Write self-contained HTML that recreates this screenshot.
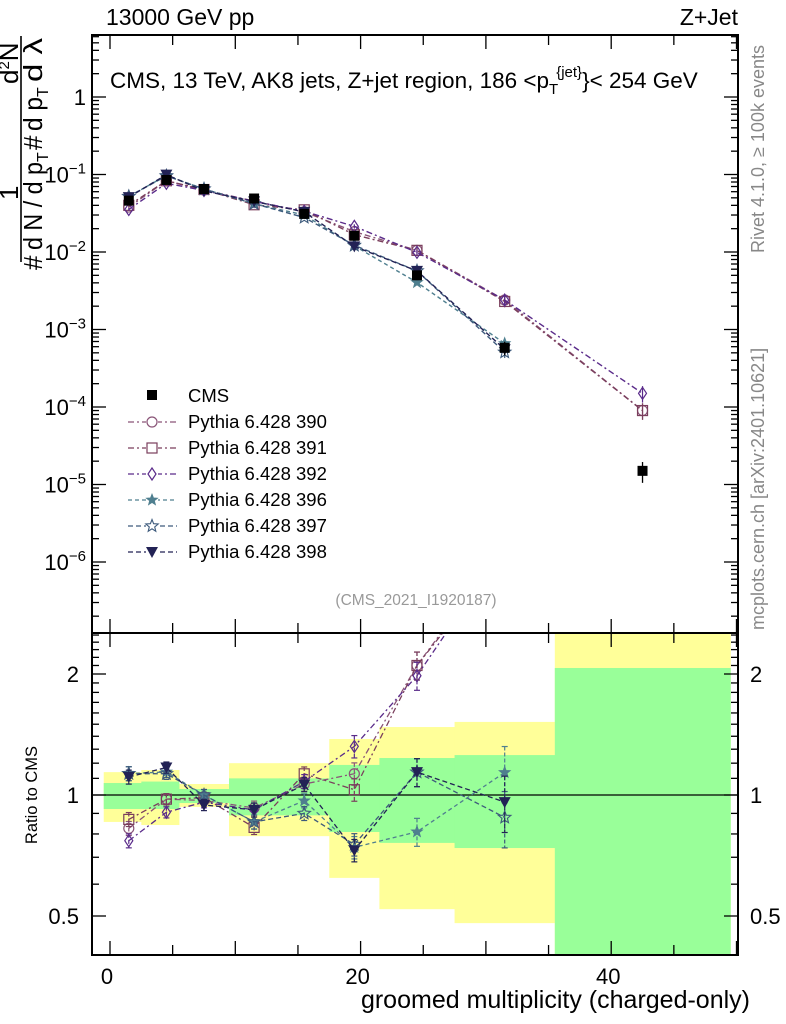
<!DOCTYPE html>
<html><head><meta charset="utf-8"><style>
body{margin:0;background:#fff}
svg{display:block;font-family:"Liberation Sans",sans-serif}
</style></head><body>
<svg id="c" width="786" height="1024"></svg>
<script>
const xVals=[1.5,4.5,7.5,11.5,15.5,19.5,24.5,31.5,42.5];
const binEdges=[-0.5,2.5,5.5,9.5,13.5,17.5,21.5,27.5,35.5,49.5];
const cmsVals=[0.046,0.085,0.065,0.049,0.031,0.0162,0.0050,0.00058,1.5e-5];
const cmsErr=[0.05,0.04,0.04,0.05,0.05,0.08,0.1,0.2,0.3];
const yelHi=[1.14,1.154,1.065,1.20,1.20,1.378,1.476,1.52,2.8];
const yelLo=[0.857,0.842,0.934,0.79,0.79,0.622,0.52,0.48,0.25];
const grnHi=[1.071,1.08,1.035,1.10,1.10,1.188,1.236,1.257,2.07];
const grnLo=[0.923,0.923,0.955,0.89,0.89,0.809,0.76,0.738,0.3];
const s390=[0.038,0.083,0.063,0.0455,0.033,0.0183,0.0105,0.0024,9e-5];
const s391=[0.040,0.083,0.064,0.0407,0.035,0.0167,0.0105,0.0023,9e-5];
const s392=[0.0354,0.077,0.0624,0.045,0.0335,0.0214,0.0099,0.0024,1.5e-4];
const s396=[0.052,0.097,0.065,0.042,0.030,0.0120,0.00405,0.00066];
const s397=[0.052,0.096,0.065,0.042,0.0279,0.0122,0.0057,0.00051];
const s398=[0.051,0.0995,0.0614,0.045,0.0329,0.0118,0.0057,0.000557];
const series=[
 {name:'Pythia 6.428 390',v:s390,c:'#8a5578',m:'circle',d:'6,3,2,3'},
 {name:'Pythia 6.428 391',v:s391,c:'#7a3e5c',m:'square',d:'6,3,2,3'},
 {name:'Pythia 6.428 392',v:s392,c:'#5a2b8a',m:'diamond',d:'6,3,2,3'},
 {name:'Pythia 6.428 396',v:s396,c:'#4f7f8f',m:'star',d:'4,3'},
 {name:'Pythia 6.428 397',v:s397,c:'#3d5a7c',m:'ostar',d:'5,3'},
 {name:'Pythia 6.428 398',v:s398,c:'#222255',m:'tri',d:'5,3'}];
const NS='http://www.w3.org/2000/svg';
const svg=document.getElementById('c');
function el(t,a,p){const e=document.createElementNS(NS,t);for(const k in a)e.setAttribute(k,a[k]);(p||svg).appendChild(e);return e;}
const L=92,R=738,T=35,M=633,B=955;
const X=v=>110+(v)*12.53;
const Y=v=>97-77.5*Math.log10(v);
const RY=r=>795-121*Math.log2(r);
const defs=el('defs',{});
const cp1=el('clipPath',{id:'ct'},defs);el('rect',{x:L,y:T,width:R-L,height:M-T},cp1);
const cp2=el('clipPath',{id:'cb'},defs);el('rect',{x:L,y:M,width:R-L,height:B-M},cp2);
const gb=el('g',{'clip-path':'url(#cb)'});

for(let i=0;i<9;i++){
 el('rect',{x:X(binEdges[i]),y:RY(yelHi[i]),width:X(binEdges[i+1])-X(binEdges[i])+0.5,height:RY(yelLo[i])-RY(yelHi[i]),fill:'#ffff99'},gb);
}
for(let i=0;i<9;i++){
 el('rect',{x:X(binEdges[i]),y:RY(grnHi[i]),width:X(binEdges[i+1])-X(binEdges[i])+0.5,height:RY(grnLo[i])-RY(grnHi[i]),fill:'#99ff99'},gb);
}
el('line',{x1:L,x2:R,y1:RY(1),y2:RY(1),stroke:'#000','stroke-width':1.3});
function marker(g,m,x,y,c){
 const s=5;
 if(m==='circle')el('circle',{cx:x,cy:y,r:s,fill:'none',stroke:c,'stroke-width':1.2},g);
 else if(m==='square')el('rect',{x:x-s,y:y-s,width:2*s,height:2*s,fill:'none',stroke:c,'stroke-width':1.2},g);
 else if(m==='diamond')el('polygon',{points:`${x},${y-6} ${x+4},${y} ${x},${y+6} ${x-4},${y}`,fill:'none',stroke:c,'stroke-width':1.2},g);
 else if(m==='star'||m==='ostar'){let p=[];for(let k=0;k<10;k++){const r=k%2?(m==='star'?2.3:2.8):(m==='star'?5.5:6.5);const a=-Math.PI/2+k*Math.PI/5;p.push((x+r*Math.cos(a)).toFixed(1)+','+(y+r*Math.sin(a)).toFixed(1));}
  el('polygon',{points:p.join(' '),fill:m==='star'?c:'none',stroke:c,'stroke-width':1.1},g);}
 else if(m==='tri')el('polygon',{points:`${x-6},${y-5} ${x+6},${y-5} ${x},${y+6}`,fill:c},g);
 else if(m==='cms')el('rect',{x:x-5,y:y-5,width:10,height:10,fill:'#000'},g);
}
const gt=el('g',{'clip-path':'url(#ct)'});
const gr=el('g',{'clip-path':'url(#cb)'});
series.forEach((s,si)=>{
 const g=el('g',{},gt);
 
 
 const g2=el('g',{},gr);
 
 
 el('polyline',{points:s.v.map((v,i)=>X(xVals[i])+','+Y(v)).join(' '),fill:'none',stroke:s.c,'stroke-width':1.4,'stroke-dasharray':s.d},g);
 el('polyline',{points:s.v.map((v,i)=>X(xVals[i])+','+RY(v/cmsVals[i])).join(' '),fill:'none',stroke:s.c,'stroke-width':1.3,'stroke-dasharray':s.d},g2);
 s.v.forEach((v,i)=>{
  const e=cmsErr[i]*0.8;
  el('line',{x1:X(xVals[i]),x2:X(xVals[i]),y1:Y(v*(1+e)),y2:Y(v*(1-e)),stroke:s.c,'stroke-width':1.2},g);
  marker(g,s.m,X(xVals[i]),Y(v),s.c);
  const r=v/cmsVals[i];
  el('line',{x1:X(xVals[i]),x2:X(xVals[i]),y1:RY(r*(1+e)),y2:RY(r*(1-e)),stroke:s.c,'stroke-width':1.2,'stroke-dasharray':'4,2'},g2);
  [r*(1+e),r*(1-e)].forEach(q=>el('line',{x1:X(xVals[i])-3,x2:X(xVals[i])+3,y1:RY(q),y2:RY(q),stroke:s.c,'stroke-width':1.2},g2));
  marker(g2,s.m,X(xVals[i]),RY(r),s.c);
 });
});
const gc=el('g',{},gt);

cmsVals.forEach((v,i)=>{
 el('line',{x1:X(xVals[i]),x2:X(xVals[i]),y1:Y(v*(1+cmsErr[i])),y2:Y(v*(1-cmsErr[i])),stroke:'#000','stroke-width':1.3},gc);
 marker(gc,'cms',X(xVals[i]),Y(v),'#000');
});
el('rect',{x:L,y:T,width:R-L,height:M-T,fill:'none',stroke:'#000','stroke-width':2});
el('rect',{x:L,y:M,width:R-L,height:B-M,fill:'none',stroke:'#000','stroke-width':2});
for(let v=0;v<=50;v+=1){
 const x=X(v);if(x<L||x>R)continue;
 const big=v%10===0, mid=v%5===0;
 const len=big?14:(mid?10:0);
 if(!len)continue;
 [[T,1],[M,-1],[M,1],[B,-1]].forEach(([y0,d])=>el('line',{x1:x,x2:x,y1:y0,y2:y0+d*len,stroke:'#000','stroke-width':1.3}));
}
[0,20,40].forEach(v=>{const t=el('text',{x:X(v)-3,y:984,'font-size':22,'text-anchor':'middle'});t.textContent=v;
 });
const ytl=[['1',0],['10⁻¹',-1],['10⁻²',-2],['10⁻³',-3],['10⁻⁴',-4],['10⁻⁵',-5],['10⁻⁶',-6]];
for(let e=-7;e<=0;e++){for(let k=1;k<10;k++){const v=k*Math.pow(10,e);const y=Y(v);if(y<T||y>M)continue;
 const len=k===1?14:7;
 el('line',{x1:L,x2:L+len,y1:y,y2:y,stroke:'#000','stroke-width':1.3});
 el('line',{x1:R,x2:R-len,y1:y,y2:y,stroke:'#000','stroke-width':1.3});}}
ytl.forEach(([s,e])=>{const t=el('text',{x:86,y:Y(Math.pow(10,e))+8,'font-size':22,'text-anchor':'end'});
 if(e===0)t.textContent='1';else{t.textContent='10';const ts=el('tspan',{dy:-9,'font-size':15},t);ts.textContent='−'+String(-e);}
 });
[0.4,0.5,0.6,0.7,0.8,0.9,1,1.1,1.2,1.3,1.4,1.5,1.6,1.7,1.8,1.9,2,2.1,2.2,2.3,2.4,2.5].forEach(r=>{const y=RY(r);if(y<M||y>B)return;
 const len=(r===0.5||r===1||r===2)?14:7;
 el('line',{x1:L,x2:L+len,y1:y,y2:y,stroke:'#000','stroke-width':1.3});
 el('line',{x1:R,x2:R-len,y1:y,y2:y,stroke:'#000','stroke-width':1.3});});
[['2',2],['1',1],['0.5',0.5]].forEach(([s,r])=>{
 const t=el('text',{x:79,y:RY(r)+8,'font-size':22,'text-anchor':'end'});t.textContent=s;
 const t2=el('text',{x:750,y:RY(r)+8,'font-size':22});t2.textContent=s;});
function txt(s,a,name){const t=el('text',a);t.textContent=s;return t;}
txt('13000 GeV pp',{x:106,y:25,'font-size':23},'energy-label');
txt('Z+Jet',{x:738,y:25,'font-size':23,'text-anchor':'end'},'process-label');
const tt=txt('CMS, 13 TeV, AK8 jets, Z+jet region, 186 <p',{x:110,y:88,'font-size':22.5},'plot-title');
const a1=el('tspan',{dy:6,'font-size':15},tt);a1.textContent='T';
const a2=el('tspan',{dy:-17,dx:-2,'font-size':15},tt);a2.textContent='{jet}';
const a3=el('tspan',{dy:11,'font-size':22.5},tt);a3.textContent='}< 254 GeV';
txt('(CMS_2021_I1920187)',{x:416,y:605,'font-size':15.5,fill:'#999','text-anchor':'middle'},'analysis-id');
txt('Rivet 4.1.0, ≥ 100k events',{x:0,y:0,'font-size':18,fill:'#888',transform:'translate(764,253) rotate(-90)'},'rivet-label');
txt('mcplots.cern.ch [arXiv:2401.10621]',{x:0,y:0,'font-size':18,fill:'#888',transform:'translate(764,630) rotate(-90)'},'mcplots-label');
txt('Ratio to CMS',{x:0,y:0,'font-size':16.5,'text-anchor':'middle',transform:'translate(37,795) rotate(-90)'},'ratio-y-title');
txt('groomed multiplicity (charged-only)',{x:750,y:1008,'font-size':25,'text-anchor':'end'},'x-axis-title');
// y axis title
const yg=el('g',{});

el('line',{x1:21,x2:21,y1:36,y2:262,stroke:'#000','stroke-width':1.6},yg);
function rt(x,y,g,fs){return el('text',{x:0,y:0,'font-size':fs||26,transform:`translate(${x},${y}) rotate(-90)`},g);}
let t1=rt(18,200,yg);t1.textContent='1';
let t2=rt(42,270,yg);t2.textContent='#';
let t2b=rt(42,250,yg);t2b.textContent='d N / d p';t2b.setAttribute('textLength','88');t2b.setAttribute('lengthAdjust','spacingAndGlyphs');
let t2c=rt(48,162,yg,16);t2c.textContent='T';
let t3=rt(42,150,yg);t3.textContent='#';
let t3b=rt(42,131,yg);t3b.textContent='d p';t3b.setAttribute('textLength','34');t3b.setAttribute('lengthAdjust','spacingAndGlyphs');
let t3c=rt(48,97,yg,16);t3c.textContent='T';
let t3d=rt(42,82,yg);t3d.textContent='d λ';t3d.setAttribute('textLength','44');t3d.setAttribute('lengthAdjust','spacingAndGlyphs');
let t4=rt(18,84,yg);t4.textContent='d';const s4=el('tspan',{dy:-9,'font-size':15},t4);s4.textContent='2';
const s5=el('tspan',{dy:9,'font-size':26},t4);s5.textContent='N';
// legend
const lg=el('g',{});
marker(lg,'cms',152,395,'#000');
txt('CMS',{x:188,y:402,'font-size':18.5},'legend-entry-cms');
series.forEach((s,i)=>{const y=422+26*i;
 el('line',{x1:128,x2:177,y1:y,y2:y,stroke:s.c,'stroke-width':1.3,'stroke-dasharray':s.d},lg);
 el('rect',{x:146,y:y-7,width:12,height:14,fill:'#fff'},lg);
 marker(lg,s.m,152,y,s.c);
 txt(s.name,{x:188,y:y+6,'font-size':18.5},'legend-entry-'+s.name.slice(-3));});
</script>
</body></html>
